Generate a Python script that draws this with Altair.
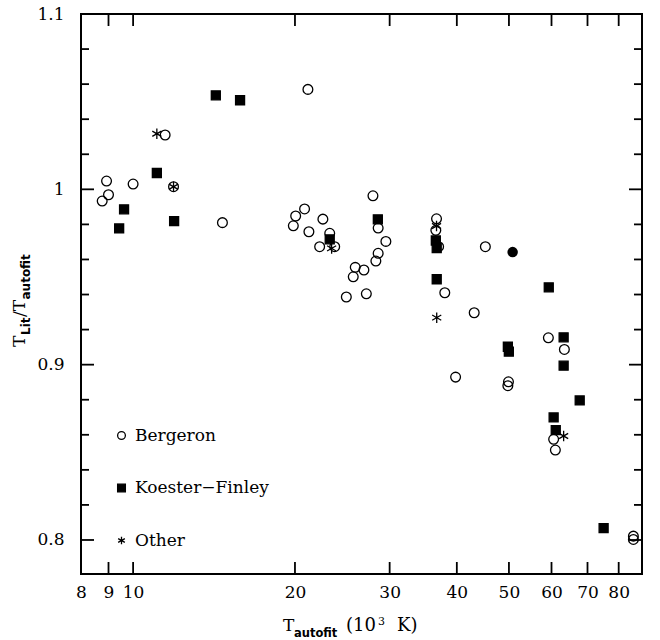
import altair as alt
import pandas as pd

# ---- data ----
berg_x = [8.76, 8.925, 9.0, 10.0, 11.47, 11.89, 14.66, 19.86, 20.06, 20.84, 21.14, 21.23,
          22.23, 22.54, 23.21, 23.71, 24.92, 25.67, 25.89, 26.87, 27.15, 27.93, 28.28,
          28.56, 28.56, 29.52, 36.67, 36.56, 37.0, 37.99, 39.79, 43.09, 45.2, 49.9, 49.77,
          59.2, 63.4, 60.55, 61.0, 85.2, 85.2]
berg_y = [0.9933, 1.0047, 0.9969, 1.003, 1.031, 1.0015, 0.981, 0.9792, 0.9848, 0.9888, 1.057,
          0.9758, 0.9673, 0.983, 0.9749, 0.9673, 0.9386, 0.9501, 0.9555, 0.954, 0.9404, 0.9963,
          0.9591, 0.9779, 0.9635, 0.9703, 0.9832, 0.9766, 0.9673, 0.941, 0.8929, 0.9296, 0.9673,
          0.8902, 0.888, 0.9153, 0.9087, 0.8574, 0.8513, 0.8022, 0.8003]
kf_x = [9.42, 9.62, 11.07, 11.92, 14.25, 15.81, 23.21, 28.52, 36.56, 36.7, 36.7, 49.77,
        49.98, 59.3, 63.2, 63.2, 67.7, 60.55, 61.1, 75.0]
kf_y = [0.9777, 0.9886, 1.0093, 0.9819, 1.0536, 1.0508, 0.9715, 0.9829, 0.9708, 0.9665,
        0.9487, 0.9102, 0.9074, 0.9441, 0.9156, 0.8994, 0.8796, 0.8699, 0.8627, 0.8068]
oth_x = [11.07, 11.89, 23.4, 36.67, 36.7, 63.2]
oth_y = [1.0317, 1.0015, 0.9663, 0.9791, 0.9268, 0.8593]
dot_x = [50.8]
dot_y = [0.9642]

sources = ["Bergeron", "Koester\u2212Finley", "Other"]
x_ticks = [8, 9, 10, 20, 30, 40, 50, 60, 70, 80]
y_major = [0.8, 0.9, 1.0, 1.1]
y_minor = [0.82, 0.84, 0.86, 0.88, 0.92, 0.94, 0.96, 0.98, 1.02, 1.04, 1.06, 1.08]

W, H = 561, 560
FONT = "DejaVu Serif"
SUBFONT = "DejaVu Sans"

xs = alt.Scale(type="log", domain=[8, 88.4], nice=False, zero=False)
ys = alt.Scale(domain=[0.7806, 1.1], nice=False, zero=False)

ASTER = "M0,-1L0,1M-0.866,-0.5L0.866,0.5M-0.866,0.5L0.866,-0.5"

legend = alt.Legend(title=None, orient="none", legendX=32, legendY=413,
                    symbolSize=60, labelFont=FONT, labelFontSize=17,
                    labelColor="black", rowPadding=34.5, labelOffset=5,
                    symbolStrokeWidth=1.3, padding=0)
shape_scale = alt.Scale(domain=sources, range=["circle", "square", ASTER])
fill_scale = alt.Scale(domain=sources, range=["transparent", "black", "black"])
stroke_scale = alt.Scale(domain=sources, range=["black", "black", "black"])


def series(xv, yv, src, size, axes=False):
    df = pd.DataFrame({"x": xv, "y": yv, "src": src})
    if axes:
        xa = alt.Axis(values=x_ticks, format="d", title=None, tickSize=0,
                      domain=False, grid=False, labelFlush=False,
                      labelOverlap=False, labelPadding=10,
                      labelFont=FONT, labelFontSize=17, labelColor="black")
        ya = alt.Axis(values=y_major, title=None, tickSize=0, domain=False,
                      grid=False, labelExpr="format(datum.value, '~g')",
                      labelPadding=17, labelFont=FONT, labelFontSize=17,
                      labelColor="black")
    else:
        xa = None
        ya = None
    return alt.Chart(df).mark_point(filled=True, strokeWidth=1.3,
                                    opacity=1, size=size).encode(
        x=alt.X("x:Q", scale=xs, axis=xa),
        y=alt.Y("y:Q", scale=ys, axis=ya),
        shape=alt.Shape("src:N", scale=shape_scale, legend=legend),
        fill=alt.Fill("src:N", scale=fill_scale, legend=legend),
        stroke=alt.Stroke("src:N", scale=stroke_scale, legend=legend),
    )


berg = series(berg_x, berg_y, sources[0], 95, axes=True)
kf = series(kf_x, kf_y, sources[1], 81)
oth = series(oth_x, oth_y, sources[2], 110)

dot = alt.Chart(pd.DataFrame({"x": dot_x, "y": dot_y})).mark_circle(
    color="black", size=110, opacity=1).encode(
    x=alt.X("x:Q", scale=xs, axis=None), y=alt.Y("y:Q", scale=ys, axis=None))

xt = pd.DataFrame({"v": x_ticks})
ymaj = pd.DataFrame({"v": y_major})
ymin = pd.DataFrame({"v": y_minor})
TW = 1.8
xbot = alt.Chart(xt).mark_rule(color="black", strokeWidth=TW).encode(
    x=alt.X("v:Q", scale=xs, axis=None), y=alt.value(H), y2=alt.value(H - 12))
xtop = alt.Chart(xt).mark_rule(color="black", strokeWidth=TW).encode(
    x=alt.X("v:Q", scale=xs, axis=None), y=alt.value(0), y2=alt.value(12))


def yticks(df, ln):
    l = alt.Chart(df).mark_rule(color="black", strokeWidth=TW).encode(
        y=alt.Y("v:Q", scale=ys, axis=None), x=alt.value(0), x2=alt.value(ln))
    r = alt.Chart(df).mark_rule(color="black", strokeWidth=TW).encode(
        y=alt.Y("v:Q", scale=ys, axis=None), x=alt.value(W), x2=alt.value(W - ln))
    return l + r


frame = alt.Chart(alt.Data(values=[{"a": 1}])).mark_rect(
    fill=None, stroke="black", strokeWidth=2).encode(
    x=alt.value(0), x2=alt.value(W), y=alt.value(0), y2=alt.value(H))


def txt(t, x, y, font=FONT, size=17, weight="normal", angle=0):
    return alt.Chart(alt.Data(values=[{"t": t}])).mark_text(
        font=font, fontSize=size, fontWeight=weight, align="left", baseline="alphabetic",
        angle=angle, color="black").encode(x=alt.value(x), y=alt.value(y), text="t:N")


# x title: T_autofit (10^3 K)
xtitle = (txt("T", 202, 617) + txt("autofit", 213, 623, SUBFONT, 11.5, "bold")
          + txt("(10", 265, 617, FONT, 18) + txt("3", 297, 611, FONT, 11)
          + txt("K)", 316, 617, FONT, 18))
# y title: T_Lit / T_autofit (rotated)
y0 = 333
ytitle = (txt("T", -56, y0, angle=270)
          + txt("Lit", -51, y0 - 12, SUBFONT, 12, "bold", 270)
          + txt("/T", -56, y0 - 30, angle=270)
          + txt("autofit", -51, y0 - 47.5, SUBFONT, 12, "bold", 270))

chart = alt.layer(
    berg, kf, oth, dot, xbot, xtop, yticks(ymaj, 13), yticks(ymin, 8), frame, xtitle, ytitle
).resolve_axis(
    x="independent", y="independent"
).properties(
    width=W, height=H, autosize=alt.AutoSizeParams(type="none"),
    padding={"left": 81, "top": 14, "right": 18, "bottom": 66},
    background="white",
).configure_view(
    stroke=None
)

chart.save("out.html", embed_options={"renderer": "svg", "actions": False})
